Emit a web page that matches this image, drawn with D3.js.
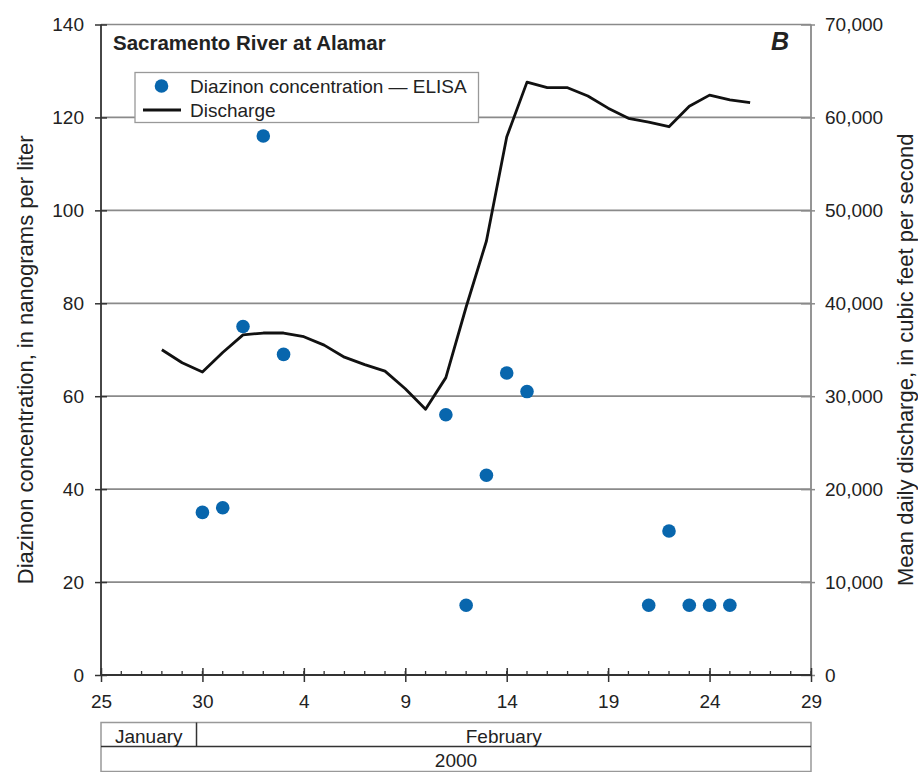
<!DOCTYPE html>
<html>
<head>
<meta charset="utf-8">
<script src="https://cdn.jsdelivr.net/npm/d3@7"></script>
<style>
  html, body { margin: 0; padding: 0; background: #fff; }
  svg { display: block; font-family: "Liberation Sans", Arial, sans-serif; }
</style>
</head>
<body>
<svg id="chart" width="918" height="772"></svg>
<script>
// Sampling dates of diazinon (ELISA) and measured concentrations, ng/L
const sampleDates = ["2000-01-30", "2000-01-31", "2000-02-01", "2000-02-02", "2000-02-03",
  "2000-02-11", "2000-02-12", "2000-02-13", "2000-02-14", "2000-02-15",
  "2000-02-21", "2000-02-22", "2000-02-23", "2000-02-24", "2000-02-25"];
const diazinon = [35, 36, 75, 116, 69, 56, 15, 43, 65, 61, 15, 31, 15, 15, 15];

// Mean daily discharge, cubic feet per second
const dischargeDates = ["2000-01-28", "2000-01-29", "2000-01-30", "2000-01-31",
  "2000-02-01", "2000-02-02", "2000-02-03", "2000-02-04", "2000-02-05", "2000-02-06",
  "2000-02-07", "2000-02-08", "2000-02-09", "2000-02-10", "2000-02-11", "2000-02-12",
  "2000-02-13", "2000-02-14", "2000-02-15", "2000-02-16", "2000-02-17", "2000-02-18",
  "2000-02-19", "2000-02-20", "2000-02-21", "2000-02-22", "2000-02-23", "2000-02-24",
  "2000-02-25", "2000-02-26"];
const discharge = [35000, 33600, 32600, 34700, 36600, 36800, 36800, 36400, 35500, 34200,
  33400, 32700, 30800, 28600, 32000, 39600, 46700, 57900, 63800, 63200, 63200, 62300,
  61000, 59900, 59500, 59000, 61200, 62400, 61900, 61600];

// Axis ticks
const xTickDates = ["2000-01-25", "2000-01-30", "2000-02-04", "2000-02-09",
  "2000-02-14", "2000-02-19", "2000-02-24", "2000-02-29"];
const leftTicks = [0, 20, 40, 60, 80, 100, 120, 140];
const rightTicks = [0, 10000, 20000, 30000, 40000, 50000, 60000, 70000];

// Month bands under the date axis
const monthLabels = ["January", "February"];
const monthEdges = ["2000-01-25", "2000-01-29T17:00", "2000-02-29"];
const yearLabel = "2000";

const title = "Sacramento River at Alamar";
const panelLetter = "B";
const leftTitle = "Diazinon concentration, in nanograms per liter";
const rightTitle = "Mean daily discharge, in cubic feet per second";
const legendLabels = ["Diazinon concentration \u2014 ELISA", "Discharge"];

const parse = s => new Date(s + (s.length > 10 ? ":00Z" : "T00:00:00Z"));

const svg = d3.select("#chart");
const plot = { left: 101, right: 811, top: 24.5, bottom: 675 };

const x = d3.scaleUtc()
  .domain([parse(xTickDates[0]), parse(xTickDates[xTickDates.length - 1])])
  .range([plot.left, plot.right]);
const yL = d3.scaleLinear().domain([0, 140]).range([plot.bottom, plot.top]);
const yR = d3.scaleLinear().domain([0, 70000]).range([plot.bottom, plot.top]);

const gridColor = "#8a8a8a";
const axisColor = "#333";
const tickFont = 19;

// Horizontal gridlines
svg.append("g").selectAll("line")
  .data(leftTicks.filter(d => d > 0))
  .join("line")
  .attr("x1", plot.left).attr("x2", plot.right)
  .attr("y1", d => yL(d)).attr("y2", d => yL(d))
  .attr("stroke", gridColor).attr("stroke-width", d => d === 140 ? 1.6 : 1.8);

// Right axis line
svg.append("line")
  .attr("x1", plot.right).attr("x2", plot.right)
  .attr("y1", plot.top).attr("y2", plot.bottom)
  .attr("stroke", gridColor).attr("stroke-width", 1.8);

// Left axis
const leftAxis = d3.axisLeft(yL).tickValues(leftTicks).tickSize(6).tickPadding(12);
const gL = svg.append("g").attr("transform", `translate(${plot.left},0)`).call(leftAxis);
gL.select(".domain").remove();
gL.selectAll(".tick line").attr("x2", -6).attr("x1", 6).attr("stroke", axisColor).attr("stroke-width", 1.5);
gL.selectAll(".tick text").attr("x", -17).attr("font-size", tickFont).attr("fill", "#222")
  .attr("font-family", "'Liberation Sans', Arial, sans-serif");
svg.append("line")
  .attr("x1", plot.left).attr("x2", plot.left)
  .attr("y1", plot.top).attr("y2", plot.bottom)
  .attr("stroke", axisColor).attr("stroke-width", 1.8);

// Right axis
const rightAxis = d3.axisRight(yR).tickValues(rightTicks).tickSize(5)
  .tickFormat(d3.format(","));
const gR = svg.append("g").attr("transform", `translate(${plot.right},0)`).call(rightAxis);
gR.select(".domain").remove();
gR.selectAll(".tick line").attr("x1", -10).attr("x2", 4).attr("stroke", gridColor).attr("stroke-width", 1.5);
gR.selectAll(".tick text").attr("x", 14).attr("font-size", tickFont).attr("fill", "#222")
  .attr("font-family", "'Liberation Sans', Arial, sans-serif");

// Bottom axis: daily minor ticks, major every five days
const dayTicks = d3.utcDay.range(x.domain()[0], d3.utcDay.offset(x.domain()[1], 1));
svg.append("g").selectAll("line")
  .data(dayTicks)
  .join("line")
  .attr("x1", d => x(d)).attr("x2", d => x(d))
  .attr("y1", plot.bottom - 4).attr("y2", plot.bottom)
  .attr("stroke", axisColor).attr("stroke-width", 1.3);
const bottomAxis = d3.axisBottom(x).tickValues(xTickDates.map(parse))
  .tickFormat(d3.utcFormat("%-d")).tickSize(7).tickPadding(13);
const gB = svg.append("g").attr("transform", `translate(0,${plot.bottom})`).call(bottomAxis);
gB.select(".domain").remove();
gB.selectAll(".tick line").attr("y1", -7).attr("y2", 7).attr("stroke", axisColor).attr("stroke-width", 1.5);
gB.selectAll(".tick text").attr("font-size", tickFont).attr("fill", "#222")
  .attr("font-family", "'Liberation Sans', Arial, sans-serif");
svg.append("line")
  .attr("x1", plot.left).attr("x2", plot.right)
  .attr("y1", plot.bottom).attr("y2", plot.bottom)
  .attr("stroke", axisColor).attr("stroke-width", 1.8);

// Month / year bands
const band = { top: 722.5, mid: 746.5, bottom: 771.5 };
const edges = monthEdges.map(parse);
const gBand = svg.append("g");
gBand.append("rect")
  .attr("x", x(edges[0])).attr("y", band.top)
  .attr("width", x(edges[2]) - x(edges[0])).attr("height", band.bottom - band.top)
  .attr("fill", "none").attr("stroke", "#999").attr("stroke-width", 1.5);
gBand.append("line")
  .attr("x1", x(edges[0])).attr("x2", x(edges[2]))
  .attr("y1", band.mid).attr("y2", band.mid)
  .attr("stroke", axisColor).attr("stroke-width", 1.5);
gBand.append("line")
  .attr("x1", x(edges[1])).attr("x2", x(edges[1]))
  .attr("y1", band.top).attr("y2", band.mid)
  .attr("stroke", axisColor).attr("stroke-width", 1.5);
gBand.selectAll("text.month")
  .data(monthLabels)
  .join("text")
  .attr("class", "month")
  .attr("x", (d, i) => (x(edges[i]) + x(edges[i + 1])) / 2)
  .attr("y", band.mid - 4)
  .attr("text-anchor", "middle")
  .attr("font-size", 19).attr("fill", "#222")
  .text(d => d);
gBand.append("text")
  .attr("x", (x(edges[0]) + x(edges[2])) / 2)
  .attr("y", band.bottom - 5)
  .attr("text-anchor", "middle")
  .attr("font-size", 19).attr("fill", "#222")
  .text(yearLabel);

// Discharge line
const line = d3.line()
  .x((d, i) => x(parse(dischargeDates[i])))
  .y(d => yR(d));
svg.append("path")
  .datum(discharge)
  .attr("d", line)
  .attr("fill", "none")
  .attr("stroke", "#111")
  .attr("stroke-width", 2.8)
  .attr("stroke-linejoin", "round");

// Diazinon points
const dotColor = "#0866ad";
svg.append("g").selectAll("circle")
  .data(diazinon)
  .join("circle")
  .attr("cx", (d, i) => x(parse(sampleDates[i])))
  .attr("cy", d => yL(d))
  .attr("r", 6.8)
  .attr("fill", dotColor);

// Title and panel letter
svg.append("text")
  .attr("x", 113).attr("y", 50)
  .attr("font-size", 20.5).attr("font-weight", "bold").attr("fill", "#222")
  .text(title);
svg.append("text")
  .attr("x", 789).attr("y", 50)
  .attr("text-anchor", "end")
  .attr("font-size", 25).attr("font-weight", "bold").attr("font-style", "italic").attr("fill", "#222")
  .text(panelLetter);

// Legend
const lg = svg.append("g");
lg.append("rect")
  .attr("x", 135).attr("y", 72.5).attr("width", 343.5).attr("height", 50)
  .attr("fill", "#fff").attr("stroke", "#999").attr("stroke-width", 1.3);
lg.append("circle").attr("cx", 161.5).attr("cy", 86).attr("r", 6.8).attr("fill", dotColor);
lg.append("line").attr("x1", 143).attr("x2", 181).attr("y1", 110).attr("y2", 110)
  .attr("stroke", "#111").attr("stroke-width", 2.8);
lg.selectAll("text")
  .data(legendLabels)
  .join("text")
  .attr("x", 190)
  .attr("y", (d, i) => 93 + i * 23.5)
  .attr("font-size", 19).attr("fill", "#222")
  .text(d => d);

// Axis titles
svg.append("text")
  .attr("transform", `translate(33,${(plot.top + plot.bottom) / 2 + 10}) rotate(-90)`)
  .attr("text-anchor", "middle")
  .attr("font-size", 22).attr("fill", "#222")
  .text(leftTitle);
svg.append("text")
  .attr("transform", `translate(913,${(plot.top + plot.bottom) / 2 + 10}) rotate(-90)`)
  .attr("text-anchor", "middle")
  .attr("font-size", 22).attr("fill", "#222")
  .text(rightTitle);
</script>
</body>
</html>
